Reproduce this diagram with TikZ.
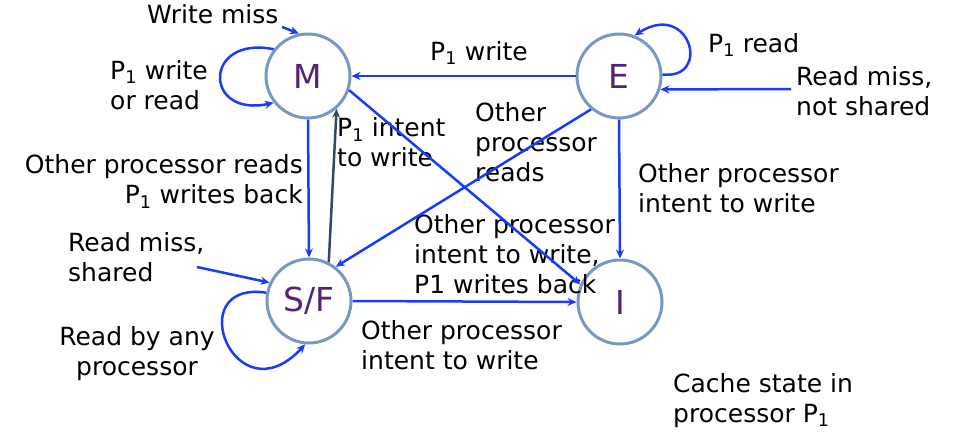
\documentclass[tikz,border=0pt]{standalone}
\usepackage{fontspec}
\setmainfont{DejaVu Sans}
\usetikzlibrary{arrows.meta}
\definecolor{edgeblue}{RGB}{25,60,250}
\definecolor{edgedark}{RGB}{50,72,105}
\definecolor{ringblue}{RGB}{120,152,196}
\definecolor{statetext}{RGB}{85,35,115}
\newcommand{\Pone}{P\textsubscript{1}}
\begin{document}
\begin{tikzpicture}[
    x=1pt, y=-1pt, >={Stealth[length=9pt,width=8pt]},
    state/.style={circle, draw=ringblue, line width=3pt, minimum size=84pt,
                  inner sep=0pt, text=statetext, font=\fontsize{33}{36}\selectfont},
    lbl/.style={inner sep=0pt, align=left, font=\fontsize{25}{30}\selectfont},
    trans/.style={->, draw=edgeblue, line width=2.5pt},
    back/.style={->, draw=edgedark, line width=2.5pt}]
  \useasboundingbox (0,0) rectangle (958,440);
  % states
  \node[state] (M)  at (308,76)  {M};
  \node[state] (E)  at (619,76)  {E};
  \node[state] (SF) at (309,301) {S/F};
  \node[state] (I)  at (620,302) {I};
  % free ends of incoming arrows
  \coordinate (wm)   at (282,27);
  \coordinate (rmns) at (791,89);
  \coordinate (rms)  at (197,267);
  % labels
  \node[lbl, anchor=west] (lwm)    at (147,14)    {Write miss};
  \node[lbl, anchor=west] (lmloop) at (110,85)    {\Pone{} write\\or read};
  \node[lbl, anchor=west] (lpw)    at (430,53)    {\Pone{} write};
  \node[lbl, anchor=west] (lpr)    at (708,45)    {\Pone{} read};
  \node[lbl, anchor=west] (lrmns)  at (796,91.5)  {Read miss,\\not shared};
  \node[lbl, anchor=west] (lopr)   at (475,142)   {Other\\processor\\reads};
  \node[lbl, anchor=west] (leiw)   at (638,188)   {Other processor\\intent to write};
  \node[lbl, anchor=west] (lpiw)   at (337,142.5) {\Pone{} intent\\to write};
  \node[lbl, anchor=east, align=right] (lorwb) at (303,181.5)
       {Other processor reads\\\Pone{} writes back};
  \node[lbl, anchor=west] (lrms)   at (68,257)    {Read miss,\\shared};
  \node[lbl, align=center] (lrbap) at (137,353.5) {Read by any\\processor};
  \node[lbl, anchor=west] (loiwb)  at (414,254)   {Other processor\\intent to write,\\P1 writes back};
  \node[lbl, anchor=west] (lsiw)   at (361,345)   {Other processor\\intent to write};
  \node[lbl, anchor=west] (lcache) at (673,400.5) {Cache state in\\processor \Pone};
  % transitions
  \draw[trans] (wm) -- (M.102);
  \draw[trans] (M.142) .. controls (203,35) and (203,118) .. (M.218);
  \draw[trans] (E.west) -- (M.east);
  \draw[trans] (E.2) .. controls (712,80) and (690,0) .. (E.69);
  \draw[trans] (rmns) -- (E.-18);
  \draw[trans] (M.south) -- (SF.north);
  \draw[back]  (SF.63) -- (M.-49);
  \draw[trans] (M.-19) -- (I.156);
  \draw[trans] (E.230) -- (SF.52);
  \draw[trans] (E.south) -- (I.north);
  \draw[trans] (SF.east) -- (I.west);
  \draw[trans] (rms) -- (SF.155);
  \draw[trans] (SF.169) .. controls (180,280) and (235,420) .. (SF.265);
\end{tikzpicture}
\end{document}
